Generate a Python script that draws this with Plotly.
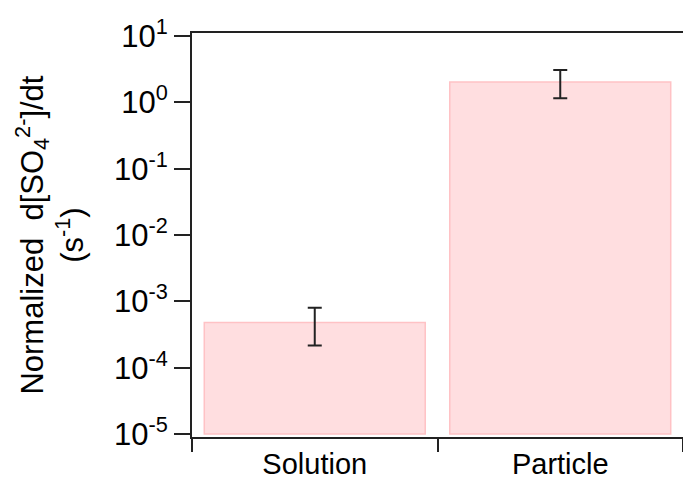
import plotly.graph_objects as go

categories = ["Solution", "Particle"]
values = [4.7e-4, 2.03]
err_plus = [3.2e-4, 1.04]
err_minus = [2.65e-4, 0.88]
tick_vals = [1e-5, 1e-4, 1e-3, 1e-2, 1e-1, 1e0, 1e1]
tick_text = ["10<sup>-5</sup>", "10<sup>-4</sup>", "10<sup>-3</sup>", "10<sup>-2</sup>",
             "10<sup>-1</sup>", "10<sup>0</sup>", "10<sup>1</sup>"]

FONT = "Liberation Sans, Arial, sans-serif"

fig = go.Figure()
fig.add_trace(go.Bar(
    x=categories, y=values, width=0.9,
    base=1e-5,
    marker=dict(color="#FFDEE0", line=dict(color="#FFC2C5", width=1.5)),
    error_y=dict(type="data", symmetric=False, array=err_plus, arrayminus=err_minus,
                 color="#222222", thickness=2, width=7),
))

fig.update_layout(
    width=683, height=479,
    margin=dict(l=192, r=0, t=33, b=42),
    paper_bgcolor="white", plot_bgcolor="white",
    showlegend=False,
    font=dict(family=FONT, size=31, color="black"),
    bargap=0.1,
    xaxis=dict(
        type="category", range=[-0.5, 1.5], automargin=False,
        showline=True, linecolor="#222222", linewidth=2, mirror=True,
        ticks="outside", tickson="boundaries", ticklen=13, tickwidth=2, tickcolor="#222222",
        tickfont=dict(family=FONT, size=29), showgrid=False, zeroline=False,
    ),
    yaxis=dict(
        type="log", range=[-5.045, 1.045], automargin=False,
        showline=True, linecolor="#222222", linewidth=2,
        tickvals=tick_vals, ticktext=tick_text,
        ticks="outside", ticklen=16, tickwidth=2, tickcolor="#222222",
        tickfont=dict(family=FONT, size=31), showgrid=False, zeroline=False,
    ),
    annotations=[dict(
        text="Normalized  d[SO<sub>4</sub><sup>2-</sup>]/dt<br>(s<sup>-1</sup>)",
        xref="paper", yref="paper", x=-0.29, y=0.5, xanchor="center", yanchor="middle",
        textangle=-90, showarrow=False, font=dict(family=FONT, size=31),
    )],
)

fig.write_html("out.html")
